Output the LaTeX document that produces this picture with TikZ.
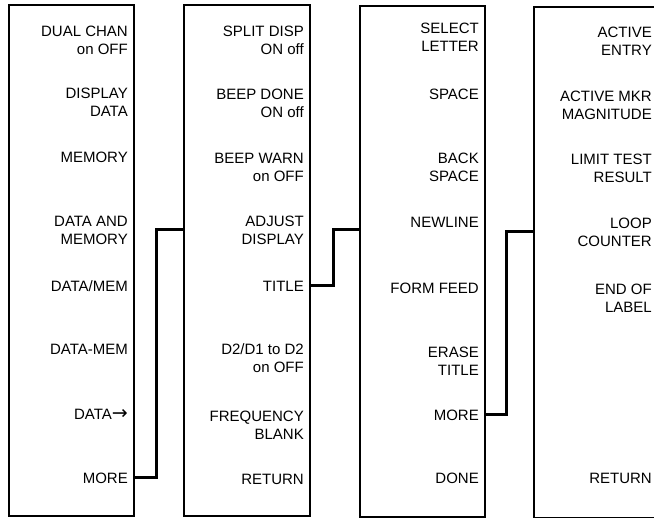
\documentclass[tikz,border=0pt]{standalone}
\usepackage{fontspec}
\setmainfont{Liberation Sans}
\newfontfamily\arrowfont{DejaVu Sans}
\usepackage{tikz}

\begin{document}
\begin{tikzpicture}[x = 1pt, y = -1pt,
        font = \fontsize{15}{18}\selectfont,
        menu/.style = {draw, line width = 1.6pt, inner sep = 0pt, outer sep = 0pt, anchor = north west},
        key/.style = {anchor = east, align = right, inner sep = 0pt},
        link/.style = {line width = 3pt}]
        \useasboundingbox (0,0) rectangle (654,518);

        % menu boxes
        \node[menu, minimum width = 125pt, minimum height = 511pt] (m1) at (9,5) {};
        \node[menu, minimum width = 126pt, minimum height = 511pt] (m2) at (184,5) {};
        \node[menu, minimum width = 125pt, minimum height = 511pt] (m3) at (360,6) {};
        \node[menu, minimum width = 124pt, minimum height = 511pt] (m4) at (534,7) {};

        % first menu
        \node[key] (dual1) at (128,40) {DUAL CHAN\\on OFF};
        \node[key] (disp1) at (128,102) {DISPLAY\\DATA};
        \node[key] (mem1) at (128,157) {MEMORY};
        \node[key] (dmem1) at (128,230) {DATA AND\\MEMORY};
        \node[key] (div1) at (128,286) {DATA/MEM};
        \node[key] (sub1) at (128,349) {DATA-MEM};
        \node[key] (to1) at (128,414) {DATA{\arrowfont\fontsize{19}{18}\selectfont →}};
        \node[key] (more1) at (128,478) {MORE};

        % second menu
        \node[key] (split2) at (304,40) {SPLIT DISP\\ON off};
        \node[key] (done2) at (304,103) {BEEP DONE\\ON off};
        \node[key] (warn2) at (304,167) {BEEP WARN\\on OFF};
        \node[key] (adj2) at (304,230) {ADJUST\\DISPLAY};
        \node[key] (title2) at (304,286) {TITLE};
        \node[key] (dd2) at (304,358) {D2/D1 to D2\\on OFF};
        \node[key] (freq2) at (304,425) {FREQUENCY\\BLANK};
        \node[key] (ret2) at (304,479) {RETURN};

        % third menu
        \node[key] (sel3) at (479,37) {SELECT\\LETTER};
        \node[key] (space3) at (479,94) {SPACE};
        \node[key] (back3) at (479,167) {BACK\\SPACE};
        \node[key] (nl3) at (479,222) {NEWLINE};
        \node[key] (ff3) at (479,288) {FORM FEED};
        \node[key] (erase3) at (479,361) {ERASE\\TITLE};
        \node[key] (more3) at (479,415) {MORE};
        \node[key] (done3) at (479,478) {DONE};

        % fourth menu
        \node[key] (entry4) at (652,41) {ACTIVE\\ENTRY};
        \node[key] (mkr4) at (652,105) {ACTIVE MKR\\MAGNITUDE};
        \node[key] (limit4) at (652,168) {LIMIT TEST\\RESULT};
        \node[key] (loop4) at (652,232) {LOOP\\COUNTER};
        \node[key] (end4) at (652,298) {END OF\\LABEL};
        \node[key] (ret4) at (652,478) {RETURN};

        % links between menus
        \draw[link] (m1.east |- more1) -- ++(22,0) |- (m2.west |- adj2);
        \draw[link] (m2.east |- title2) -- ++(23,0) |- (m3.west |- adj2);
        \draw[link] (m3.east |- more3) -- ++(21,0) |- (m4.west |- loop4);
    \end{tikzpicture}
\end{document}
